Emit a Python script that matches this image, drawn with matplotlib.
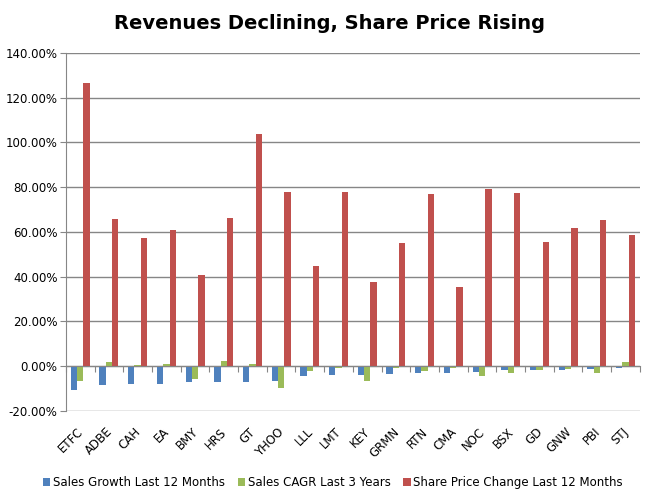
import matplotlib
matplotlib.use("Agg")
import matplotlib.pyplot as plt
import numpy as np
from matplotlib.ticker import FuncFormatter

tickers = ["ETFC", "ADBE", "CAH", "EA", "BMY", "HRS", "GT", "YHOO", "LLL", "LMT",
           "KEY", "GRMN", "RTN", "CMA", "NOC", "BSX", "GD", "GNW", "PBI", "STJ"]
sales_growth = [-10.7, -8.4, -8.0, -8.0, -7.1, -7.1, -7.1, -6.7, -4.4, -4.0,
                -4.0, -3.6, -3.1, -3.1, -2.7, -1.8, -1.8, -1.8, -1.3, -0.9]
sales_cagr = [-6.7, 1.8, 0.6, 1.0, -5.8, 2.4, 1.0, -9.8, -2.2, -0.7,
              -6.7, -0.7, -2.2, -0.7, -4.4, -3.1, -1.8, -1.3, -3.1, 1.8]
price_change = [126.4, 66.0, 57.5, 61.0, 40.6, 66.4, 103.7, 77.9, 44.6, 77.9,
                37.5, 55.2, 77.0, 35.2, 79.3, 77.5, 55.7, 61.9, 65.5, 58.8]
series_names = ["Sales Growth Last 12 Months", "Sales CAGR Last 3 Years",
                "Share Price Change Last 12 Months"]
colors = ["#4F81BD", "#9BBB59", "#C0504D"]
grid_col = "#868686"

fig = plt.figure(figsize=(6.59, 4.94), dpi=100)
ax = fig.add_axes([0.100, 0.168, 0.871, 0.725])

x = np.arange(len(tickers))
w = 0.22
for k, (vals, name, c) in enumerate(zip([sales_growth, sales_cagr, price_change], series_names, colors)):
    ax.bar(x + (k - 1) * w, vals, w, color=c, label=name, zorder=3)

ax.set_xlim(-0.5, len(tickers) - 0.5)
ax.set_ylim(-20, 140)
ax.set_yticks(np.arange(-20, 141, 20))
ax.yaxis.set_major_formatter(FuncFormatter(lambda v, p: "%.2f%%" % v))
ax.grid(axis="y", color=grid_col, lw=1.0, zorder=0)

for s in ["top", "right"]:
    ax.spines[s].set_visible(False)
ax.spines["left"].set_color(grid_col)
ax.spines["bottom"].set_color(grid_col)
ax.spines["bottom"].set_position(("data", 0))
ax.spines["bottom"].set_zorder(4)

# category boundary ticks on the zero line
ax.set_xticks(np.arange(-0.5, len(tickers), 1.0))
ax.set_xticklabels([])
ax.tick_params(axis="x", direction="out", length=4, color=grid_col)
ax.tick_params(axis="y", direction="out", length=4, color=grid_col, labelsize=8.5, pad=2)

tr = ax.get_xaxis_transform()
for i, t in enumerate(tickers):
    ax.text(i - 0.12, -0.04, t, transform=tr, rotation=45, ha="right", va="top",
            rotation_mode="anchor", fontsize=8.5)

fig.suptitle("Revenues Declining, Share Price Rising", fontsize=14, fontweight="bold", y=0.972)
fig.legend(loc="lower center", ncol=3, frameon=False, fontsize=8.5,
           handlelength=0.6, handleheight=0.6, handletextpad=0.25, columnspacing=1.1,
           bbox_to_anchor=(0.505, -0.012))

fig.savefig("out.png", dpi=100)
